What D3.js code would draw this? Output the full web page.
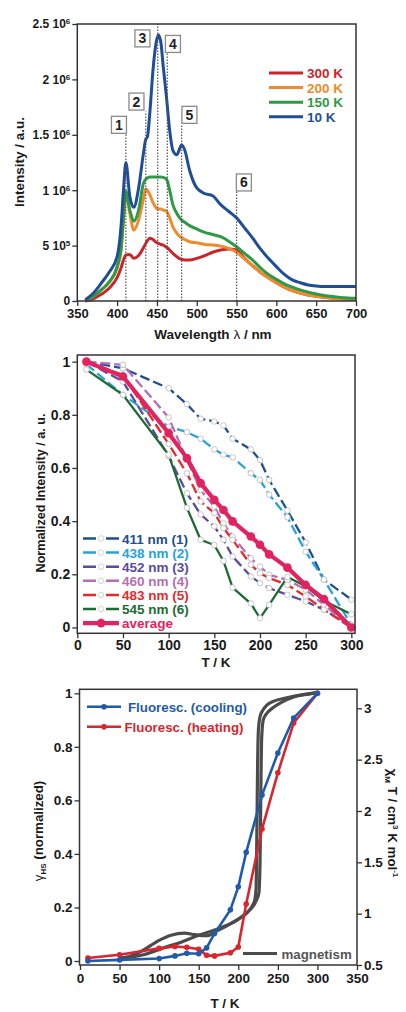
<!DOCTYPE html>
<html>
<head>
<meta charset="utf-8">
<script src="https://cdn.jsdelivr.net/npm/d3@7"></script>
<style>
  html, body { margin: 0; padding: 0; background: #fff; }
  svg text { font-family: "Liberation Sans", Arial, Helvetica, sans-serif; font-weight: bold; }
</style>
</head>
<body>
<svg id="fig" width="406" height="1012"></svg>
<script>
// ---------- (a) emission spectra, intensity in units of 10^6 ----------
const wavelength = [360, 370, 380, 390, 400, 405, 408, 411, 416, 421, 427, 433, 436, 438, 441, 445, 449, 452, 455, 458,
  462, 466, 470, 475, 481, 485, 491, 500, 510, 520, 530, 540, 550, 560, 570, 580, 590, 600, 610, 620,
  630, 640, 650, 660, 670, 680, 690, 700];
const spec300K = [0, 0.02, 0.06, 0.115, 0.21, 0.30, 0.37, 0.415, 0.42, 0.385, 0.41, 0.48, 0.52, 0.545, 0.566, 0.555, 0.53, 0.52, 0.51, 0.505,
  0.485, 0.46, 0.43, 0.40, 0.375, 0.37, 0.37, 0.385, 0.41, 0.44, 0.46, 0.47, 0.46, 0.385, 0.32, 0.26,
  0.21, 0.165, 0.125, 0.095, 0.072, 0.055, 0.043, 0.033, 0.025, 0.02, 0.016, 0.014];
const spec200K = [0, 0.04, 0.10, 0.17, 0.30, 0.46, 0.72, 0.97, 0.79, 0.64, 0.73, 0.92, 1.01, 1.0, 0.96, 0.89, 0.84, 0.83, 0.83, 0.82,
  0.81, 0.75, 0.67, 0.61, 0.57, 0.555, 0.535, 0.525, 0.51, 0.505, 0.495, 0.475, 0.44, 0.38, 0.32, 0.26,
  0.21, 0.165, 0.125, 0.095, 0.072, 0.055, 0.043, 0.033, 0.025, 0.02, 0.016, 0.014];
const spec150K = [0, 0.04, 0.10, 0.17, 0.31, 0.48, 0.75, 0.99, 0.82, 0.72, 0.82, 1.06, 1.10, 1.11, 1.12, 1.12, 1.12, 1.12, 1.12, 1.115,
  1.10, 1.00, 0.87, 0.79, 0.73, 0.71, 0.68, 0.65, 0.62, 0.60, 0.58, 0.54, 0.49, 0.43, 0.37, 0.30,
  0.24, 0.195, 0.155, 0.125, 0.10, 0.08, 0.063, 0.05, 0.04, 0.032, 0.027, 0.024];
const spec10K = [0.01, 0.07, 0.16, 0.26, 0.40, 0.68, 1.0, 1.25, 0.94, 0.845, 1.02, 1.33, 1.46, 1.48, 1.69, 2.08, 2.33, 2.40, 2.33, 2.11,
  1.84, 1.54, 1.36, 1.32, 1.41, 1.36, 1.18, 1.02, 0.97, 0.95, 0.87, 0.81, 0.75, 0.66, 0.57, 0.47,
  0.385, 0.31, 0.24, 0.19, 0.165, 0.145, 0.135, 0.13, 0.13, 0.13, 0.13, 0.13];
const specLabels = ["300 K", "200 K", "150 K", "10 K"];
const specColors = ["#c9262c", "#f08a2a", "#2f9a45", "#1f4e97"];

// Marked emission bands: position, height of the guide line, and where its number box sits
const bandWavelength = [411, 436, 451, 463, 481, 550];
const bandTop = [1.52, 1.71, 2.5, 2.25, 1.59, 1.0];
const bandBoxWavelength = [402.3, 424.3, 431.8, 470.1, 490.8, 559.2];
const bandBoxIntensity = [1.59, 1.80, 2.37, 2.32, 1.68, 1.07];
const bandNames = ["1", "2", "3", "4", "5", "6"];

const specXTicks = [350, 400, 450, 500, 550, 600, 650, 700];
const specYTicks = [0, 0.5, 1, 1.5, 2, 2.5];
const specYTickMant = ["0", "5", "1", "1.5", "2", "2.5"];
const specYTickExp = ["", "5", "6", "6", "6", "6"];

// ---------- (b) normalized band intensity vs temperature ----------
const tempB = [10, 50, 100, 120, 135, 150, 160, 170, 190, 200, 210, 230, 250, 270, 300];
const band411 = [1.0, 0.975, 0.90, 0.84, 0.785, 0.775, 0.76, 0.71, 0.67, 0.63, 0.555, 0.44, 0.32, 0.18, 0.105];
const band438 = [0.99, 0.875, 0.755, 0.735, 0.71, 0.67, 0.65, 0.64, 0.58, 0.555, 0.50, 0.415, 0.285, 0.18, 0.01];
const band452 = [1.0, 0.925, 0.645, 0.505, 0.425, 0.38, 0.33, 0.267, 0.192, 0.167, 0.148, 0.123, 0.098, 0.067, 0.0];
const band460 = [1.0, 0.988, 0.79, 0.63, 0.517, 0.455, 0.392, 0.342, 0.26, 0.229, 0.198, 0.179, 0.142, 0.085, 0.0];
const band483 = [1.0, 0.95, 0.69, 0.58, 0.474, 0.43, 0.374, 0.33, 0.236, 0.204, 0.186, 0.16, 0.117, 0.067, 0.0];
const band545 = [0.97, 0.875, 0.65, 0.45, 0.33, 0.31, 0.25, 0.15, 0.09, 0.035, 0.085, 0.19, 0.155, 0.10, 0.05];
const bandAverage = [1.0, 0.944, 0.731, 0.637, 0.543, 0.48, 0.442, 0.399, 0.342, 0.311, 0.275, 0.225, 0.16, 0.107, 0.0];
const bandLabels = ["411 nm (1)", "438 nm (2)", "452 nm (3)", "460 nm (4)", "483 nm (5)", "545 nm (6)", "average"];
const bandColors = ["#1f4f8e", "#27a3d9", "#5b4b9f", "#b36fb3", "#e12b2d", "#1d6b33", "#e2235f"];
const tempTicksB = [0, 50, 100, 150, 200, 250, 300];
const normTicks = [0, 0.2, 0.4, 0.6, 0.8, 1];

// ---------- (c) HS fraction from fluorescence and magnetic data ----------
const tempC = [10, 50, 100, 120, 135, 150, 160, 170, 190, 200, 210, 230, 250, 270, 300];
const gammaCooling = [0.0, 0.004, 0.009, 0.019, 0.029, 0.027, 0.049, 0.103, 0.191, 0.277, 0.406, 0.62, 0.777, 0.908, 1.0];
const gammaHeating = [0.011, 0.023, 0.047, 0.054, 0.051, 0.044, 0.021, 0.019, 0.031, 0.052, 0.213, 0.493, 0.703, 0.889, 1.0];
const magCoolT = [50, 80, 105, 130, 150, 170, 185, 200, 210, 218, 221, 222.5, 223.5, 224.5, 225.5, 227.5, 231, 236, 245, 260, 280, 300];
const magCool = [0.565, 0.60, 0.665, 0.73, 0.79, 0.84, 0.885, 0.945, 1.0, 1.08, 1.14, 1.25, 1.8, 2.5, 2.8, 2.92, 2.98, 3.03, 3.07, 3.10, 3.13, 3.15];
const magHeatT = [50, 65, 80, 100, 115, 132, 145, 160, 175, 190, 205, 215, 221, 224, 226, 227.5, 228.5, 229.5, 231.5, 236, 243, 255, 270, 290, 300];
const magHeat = [0.565, 0.59, 0.645, 0.74, 0.79, 0.81, 0.795, 0.785, 0.84, 0.90, 0.975, 1.04, 1.10, 1.15, 1.2, 1.5, 2.2, 2.7, 2.885, 2.95, 3.0, 3.06, 3.11, 3.14, 3.155];
const tempTicksC = [0, 50, 100, 150, 200, 250, 300, 350];
const chiTicks = [0.5, 1, 1.5, 2, 2.5, 3];

const svg = d3.select("#fig");
const AXIS = "#333";

function styleAxis(g, size) {
  g.select(".domain").remove();
  g.selectAll(".tick line").attr("stroke", AXIS).attr("stroke-width", 1.3);
  g.selectAll(".tick text").attr("fill", "#1a1a1a").attr("font-size", size);
}
function frame(x0, y0, x1, y1) {
  svg.append("rect").attr("x", x0).attr("y", y0).attr("width", x1 - x0).attr("height", y1 - y0)
    .attr("fill", "none").attr("stroke", AXIS).attr("stroke-width", 1.5);
}
function title(text, x, y, size, rot) {
  const t = svg.append("text").attr("text-anchor", "middle").attr("font-size", size).attr("fill", "#1a1a1a")
    .attr("transform", `translate(${x},${y})` + (rot ? ` rotate(${rot})` : ""));
  return t;
}

// ================= Panel (a) =================
{
  const x = d3.scaleLinear().domain([350, 700]).range([77.3, 356]);
  const y = d3.scaleLinear().domain([0, 2.5]).range([301, 24]);

  const series = [spec300K, spec200K, spec150K, spec10K];
  const line = d3.line().x((d, i) => x(wavelength[i])).y(d => y(d)).curve(d3.curveMonotoneX);
  series.forEach((s, k) => {
    svg.append("path").attr("d", line(s)).attr("fill", "none")
      .attr("stroke", specColors[k]).attr("stroke-width", 3).attr("stroke-linejoin", "round");
  });

  // dotted guides marking the bands
  bandWavelength.forEach((w, i) => {
    svg.append("line").attr("x1", x(w)).attr("x2", x(w)).attr("y1", y(0)).attr("y2", y(bandTop[i]))
      .attr("stroke", "#555").attr("stroke-width", 1.2).attr("stroke-dasharray", "1.4,1.6");
  });
  bandNames.forEach((n, i) => {
    const cx = x(bandBoxWavelength[i]), cy = y(bandBoxIntensity[i]);
    svg.append("rect").attr("x", cx - 7.5).attr("y", cy - 8.5).attr("width", 15).attr("height", 17)
      .attr("fill", "#fff").attr("stroke", "#8a8a8a").attr("stroke-width", 1.3);
    svg.append("text").attr("x", cx).attr("y", cy + 5).attr("text-anchor", "middle")
      .attr("font-size", 14).attr("font-weight", "normal").attr("fill", "#222").text(n);
  });

  frame(77.3, 24, 356, 301);

  const gx = svg.append("g").attr("transform", "translate(0,301)")
    .call(d3.axisBottom(x).tickValues(specXTicks).tickSize(5).tickPadding(3));
  styleAxis(gx, 13);
  const gy = svg.append("g").attr("transform", "translate(77.3,0)")
    .call(d3.axisLeft(y).tickValues(specYTicks).tickSize(5).tickPadding(2));
  styleAxis(gy, 12);
  gy.selectAll(".tick text").each(function (d, i) {
    const t = d3.select(this);
    t.text(null);
    if (specYTickExp[i] === "") { t.text(specYTickMant[i]); return; }
    t.append("tspan").text(specYTickMant[i] + " 10");
    t.append("tspan").attr("dy", "-0.5em").attr("font-size", 8).text(specYTickExp[i]);
  });

  // legend
  specLabels.forEach((lab, k) => {
    const yy = 73 + k * 14.6;
    svg.append("line").attr("x1", 269).attr("x2", 303).attr("y1", yy).attr("y2", yy)
      .attr("stroke", specColors[k]).attr("stroke-width", 3);
    svg.append("text").attr("x", 307).attr("y", yy + 5).attr("font-size", 13.5)
      .attr("fill", specColors[k]).text(lab);
  });

  const xt = title("", 213, 339, 13.5);
  xt.append("tspan").text("Wavelength  ");
  xt.append("tspan").attr("font-weight", "normal").text("λ");
  xt.append("tspan").text(" / nm");
  title("Intensity / a.u.", 24, 162, 13.5, -90).text("Intensity / a.u.");
}

// ================= Panel (b) =================
{
  const x = d3.scaleLinear().domain([0, 304]).range([77.3, 355]);
  const y = d3.scaleLinear().domain([-0.022, 1.025]).range([633.3, 355]);

  const series = [band411, band438, band452, band460, band483, band545];
  const line = d3.line().x((d, i) => x(tempB[i])).y(d => y(d));
  series.forEach((s, k) => {
    svg.append("path").attr("d", line(s)).attr("fill", "none")
      .attr("stroke", bandColors[k]).attr("stroke-width", 2.3)
      .attr("stroke-dasharray", k === 5 ? null : "10,4");
  });
  series.forEach((s, k) => {
    svg.append("g").selectAll("circle").data(s).join("circle")
      .attr("cx", (d, i) => x(tempB[i])).attr("cy", d => y(d)).attr("r", 2.8)
      .attr("fill", "#fff").attr("stroke", "#b8b8b8").attr("stroke-width", 0.8);
  });
  svg.append("path").attr("d", line(bandAverage)).attr("fill", "none")
    .attr("stroke", bandColors[6]).attr("stroke-width", 4.2).attr("stroke-linejoin", "round");
  svg.append("g").selectAll("circle").data(bandAverage).join("circle")
    .attr("cx", (d, i) => x(tempB[i])).attr("cy", d => y(d)).attr("r", 4.3)
    .attr("fill", bandColors[6]);

  frame(77.3, 355, 355, 633.3);
  const gx = svg.append("g").attr("transform", "translate(0,633.3)")
    .call(d3.axisBottom(x).tickValues(tempTicksB).tickSize(5).tickPadding(2));
  styleAxis(gx, 14);
  const gy = svg.append("g").attr("transform", "translate(77.3,0)")
    .call(d3.axisLeft(y).tickValues(normTicks).tickSize(5).tickPadding(2).tickFormat(d3.format("~g")));
  styleAxis(gy, 14);

  // legend
  bandLabels.forEach((lab, k) => {
    const yy = 538.5 + k * 14.1;
    const ln = svg.append("line").attr("x1", 83).attr("x2", 119).attr("y1", yy).attr("y2", yy)
      .attr("stroke", bandColors[k]);
    if (k === 6) {
      ln.attr("stroke-width", 4.2);
      svg.append("circle").attr("cx", 101).attr("cy", yy).attr("r", 4.3).attr("fill", bandColors[k]);
    } else {
      ln.attr("stroke-width", 2.5).attr("stroke-dasharray", "13,10");
      svg.append("circle").attr("cx", 101).attr("cy", yy).attr("r", 2.8)
        .attr("fill", "#fff").attr("stroke", "#c8c8c8").attr("stroke-width", 0.8);
    }
    svg.append("text").attr("x", 122).attr("y", yy + 5).attr("font-size", 13.5)
      .attr("fill", bandColors[k]).text(lab);
  });

  title("", 216, 667, 13.5).text("T / K");
  title("", 45, 493, 12.6, -90).text("Normalized Intensity / a. u.");
}

// ================= Panel (c) =================
{
  const x = d3.scaleLinear().domain([0, 350]).range([80, 357]);
  const y = d3.scaleLinear().domain([-0.015, 1.015]).range([965, 689.3]);
  const yr = d3.scaleLinear().domain([0.5, 3.185]).range([965, 689.3]);

  const magLine = (ts) => d3.line().x((d, i) => x(ts[i])).y(d => yr(d)).curve(d3.curveMonotoneX);
  [[magCoolT, magCool], [magHeatT, magHeat]].forEach(([ts, vs]) => {
    svg.append("path").attr("d", magLine(ts)(vs)).attr("fill", "none")
      .attr("stroke", "#4b4b4b").attr("stroke-width", 3.2).attr("stroke-linejoin", "round");
  });

  const fl = d3.line().x((d, i) => x(tempC[i])).y(d => y(d));
  const flColors = ["#1f5ba8", "#d7262e"];
  [gammaHeating, gammaCooling].forEach((s, j) => {
    const c = j === 0 ? flColors[1] : flColors[0];
    svg.append("path").attr("d", fl(s)).attr("fill", "none").attr("stroke", c).attr("stroke-width", 2.6);
    svg.append("g").selectAll("circle").data(s).join("circle")
      .attr("cx", (d, i) => x(tempC[i])).attr("cy", d => y(d)).attr("r", 2.8).attr("fill", c);
  });

  frame(79.5, 689.3, 357, 965);
  const gx = svg.append("g").attr("transform", "translate(0,965)")
    .call(d3.axisBottom(x).tickValues(tempTicksC).tickSize(5).tickPadding(3));
  styleAxis(gx, 13.5);
  const gy = svg.append("g").attr("transform", "translate(79.5,0)")
    .call(d3.axisLeft(y).tickValues(normTicks).tickSize(5).tickPadding(2).tickFormat(d3.format("~g")));
  styleAxis(gy, 13.5);
  const gr = svg.append("g").attr("transform", "translate(357,0)")
    .call(d3.axisRight(yr).tickValues(chiTicks).tickSize(5).tickPadding(2).tickFormat(d3.format("~g")));
  styleAxis(gr, 13.5);

  // legend
  const legC = [["Fluoresc. (cooling)", flColors[0], 706.7, 128], ["Fluoresc. (heating)", flColors[1], 726.7, 124.5]];
  legC.forEach(([lab, c, yy, tx]) => {
    svg.append("line").attr("x1", 87).attr("x2", 121).attr("y1", yy).attr("y2", yy)
      .attr("stroke", c).attr("stroke-width", 2.6);
    svg.append("circle").attr("cx", 104).attr("cy", yy).attr("r", 2.8).attr("fill", c);
    svg.append("text").attr("x", tx).attr("y", yy + 5).attr("font-size", 13.3).attr("fill", c).text(lab);
  });
  svg.append("line").attr("x1", 243).attr("x2", 277).attr("y1", 953.5).attr("y2", 953.5)
    .attr("stroke", "#4b4b4b").attr("stroke-width", 3.2);
  svg.append("text").attr("x", 281.5).attr("y", 958.5).attr("font-size", 13.3).attr("fill", "#555").text("magnetism");

  title("", 225, 1008, 13.5).text("T / K");

  const lt = title("", 43, 831, 13.3, -90);
  lt.append("tspan").attr("font-weight", "normal").text("γ");
  lt.append("tspan").attr("font-size", 8).attr("dy", 3).text("HS");
  lt.append("tspan").attr("dy", -3).text(" (normalized)");

  const rt = title("", 388, 823, 13.3, 90);
  rt.append("tspan").text("χ");
  rt.append("tspan").attr("font-size", 8).attr("dy", 3).text("M");
  rt.append("tspan").attr("dy", -3).text(" T / cm");
  rt.append("tspan").attr("font-size", 8).attr("dy", -5).text("3");
  rt.append("tspan").attr("dy", 5).text(" K mol");
  rt.append("tspan").attr("font-size", 8).attr("dy", -5).text("-1");
}
</script>
</body>
</html>
